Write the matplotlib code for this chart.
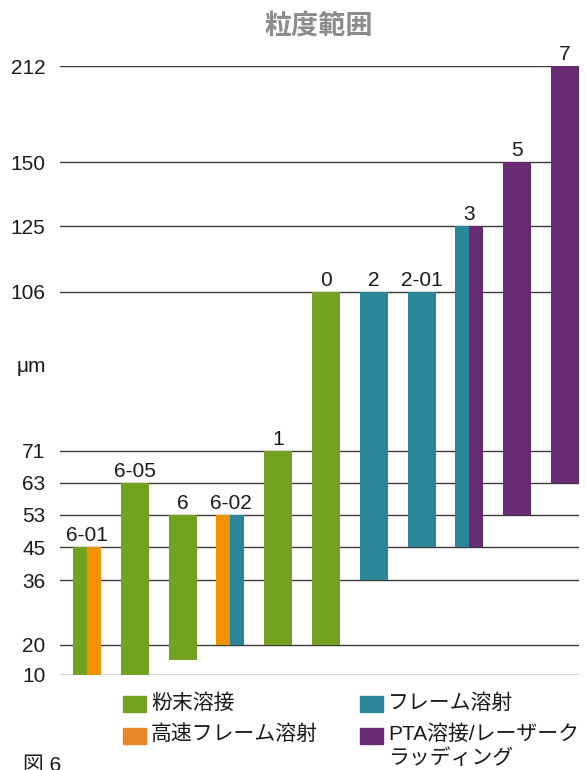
import numpy as np
import matplotlib
matplotlib.use("Agg")
import matplotlib.pyplot as plt
from matplotlib.patches import Rectangle

plt.rcParams['font.family'] = ['Liberation Sans', 'Noto Sans CJK JP', 'DejaVu Sans']

# grades and their particle size range (um)
grades = ['6-01', '6-05', '6', '6-02', '1', '0', '2', '2-01', '3', '5', '7']
size_low = [10, 10, 15, 20, 20, 20, 36, 45, 45, 53, 63]
size_high = [45, 63, 53, 53, 71, 106, 106, 106, 125, 150, 212]
# processes each grade is used for (split bar when more than one)
processes = [
    ['powder', 'hvof'],
    ['powder'],
    ['powder'],
    ['hvof', 'flame'],
    ['powder'],
    ['powder'],
    ['flame'],
    ['flame'],
    ['flame', 'pta'],
    ['pta'],
    ['pta'],
]

# sieve sizes shown on the axis and where they sit (axis is not linear)
tick_vals = [10, 20, 36, 45, 53, 63, 71, 106, 125, 150, 212]
tick_pos = [0, 0.95, 2.95, 3.98, 5.0, 6.0, 7.0, 11.96, 14.0, 16.0, 19.0]

colors = {'powder': '#74A220', 'hvof': '#F39200', 'flame': '#2A879A', 'pta': '#672A73'}
legend_colors = {'powder': '#74A220', 'hvof': '#E8862A', 'flame': '#2A879A', 'pta': '#672A73'}
legend_labels = {
    'powder': '粉末溶接',
    'hvof': '高速フレーム溶射',
    'flame': 'フレーム溶射',
    'pta': 'PTA溶接/レーザーク\nラッディング',
}


def forward(v):
    return np.interp(v, tick_vals, tick_pos)


def inverse(p):
    return np.interp(p, tick_pos, tick_vals)


W, H = 585, 770
fig = plt.figure(figsize=(W / 100, H / 100), dpi=100)
ax = fig.add_axes([60 / W, (H - 675) / H, 519 / W, 609 / H])

ax.set_yscale('function', functions=(forward, inverse))
ax.set_ylim(10, 212)
ax.set_xlim(-0.565, 10.293)
ax.set_yticks(tick_vals)
ax.set_yticklabels([str(v) for v in tick_vals])
ax.set_xticks([])
ax.tick_params(axis='y', length=0, pad=10.5, labelsize=15, labelcolor='#1a1a1a')
ax.yaxis.grid(True, color='#3a3a3a', linewidth=1.0)
ax.set_axisbelow(True)
for s in ax.spines.values():
    s.set_visible(False)

bar_w = 0.586
for i, (g, lo, hi, procs) in enumerate(zip(grades, size_low, size_high, processes)):
    n = len(procs)
    sub_w = bar_w / n
    for k, p in enumerate(procs):
        x = i - bar_w / 2 + sub_w * (k + 0.5)
        ax.bar(x, hi - lo, bottom=lo, width=sub_w, color=colors[p], zorder=3)
    ax.annotate(g, (i, hi), xytext=(0, 1.5), textcoords='offset points',
                ha='center', va='bottom', fontsize=15, color='#1a1a1a',
                annotation_clip=False)

fig.text(46 / W, 1 - 366 / H, 'μm', ha='right', va='center', fontsize=15, color='#1a1a1a')
fig.text(319 / W, 1 - 27 / H, '粒度範囲', ha='center', va='center', fontsize=19.5,
         fontweight='bold', color='#8c8c8c')

# legend, two columns
legend_items = [('powder', 123, 704), ('hvof', 123, 735.5), ('flame', 360, 704), ('pta', 360, 735.5)]
for key, lx, ly in legend_items:
    fig.patches.append(Rectangle((lx / W, 1 - (ly + 8) / H), 23 / W, 16 / H,
                                 transform=fig.transFigure, color=legend_colors[key]))
    fig.text((lx + 28) / W, 1 - (ly - 11) / H, legend_labels[key], ha='left', va='top',
             fontsize=15, color='#1a1a1a', linespacing=1.25)

fig.text(23 / W, 1 - 756 / H, '図 6', ha='left', va='top', fontsize=15, color='#1a1a1a')

fig.savefig('out.png', dpi=100)
